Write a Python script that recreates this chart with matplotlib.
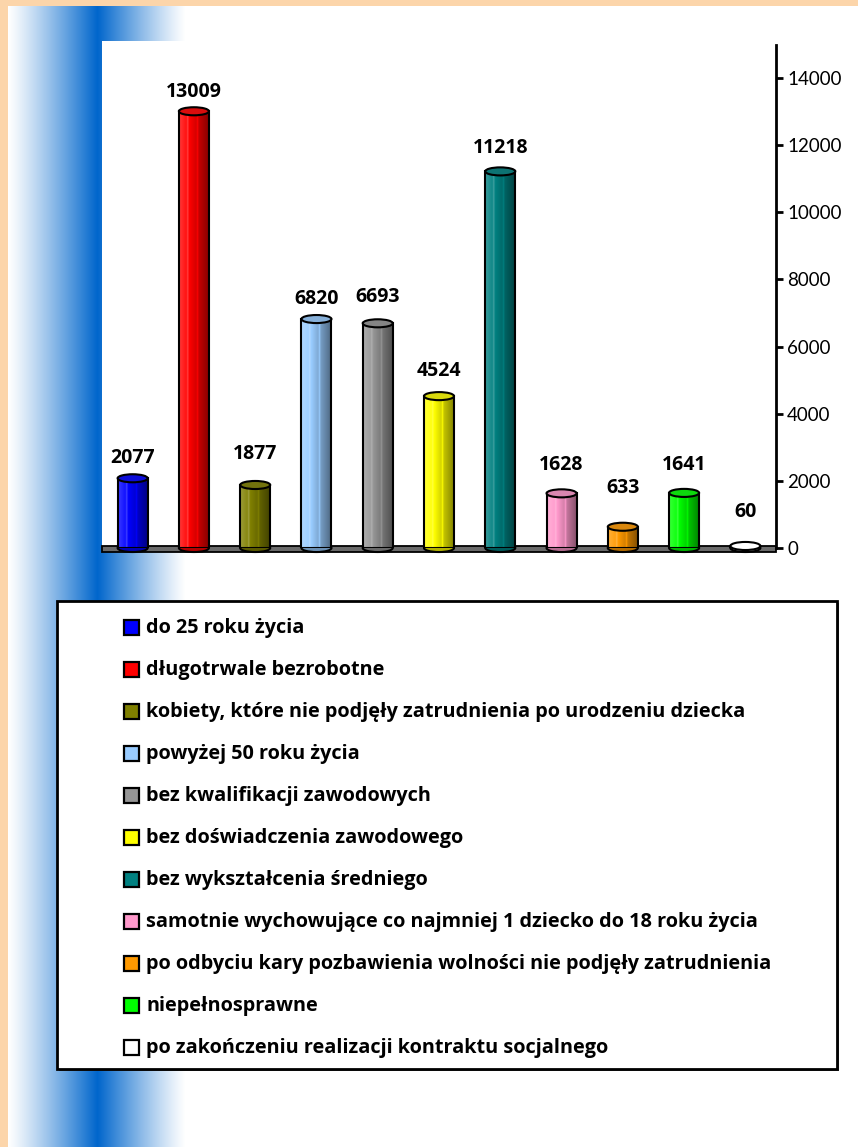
import numpy as np
import matplotlib
matplotlib.use("Agg")
import matplotlib.pyplot as plt
from matplotlib.patches import Rectangle, Ellipse
from matplotlib.colors import to_rgb

plt.rcParams["font.family"] = ["Open Sans", "DejaVu Sans"]

# Data
categories = [
    "do 25 roku życia",
    "długotrwale bezrobotne",
    "kobiety, które nie podjęły zatrudnienia po urodzeniu dziecka",
    "powyżej 50 roku życia",
    "bez kwalifikacji zawodowych",
    "bez doświadczenia zawodowego",
    "bez wykształcenia średniego",
    "samotnie wychowujące co najmniej 1 dziecko do 18 roku życia",
    "po odbyciu kary pozbawienia wolności nie podjęły zatrudnienia",
    "niepełnosprawne",
    "po zakończeniu realizacji kontraktu socjalnego",
]
values = [2077, 13009, 1877, 6820, 6693, 4524, 11218, 1628, 633, 1641, 60]
colors = ["#0000FF", "#FF0000", "#808000", "#99CCFF", "#969696", "#FFFF00",
          "#008080", "#FF99CC", "#FF9900", "#00FF00", "#FFFFFF"]
y_ticks = [0, 2000, 4000, 6000, 8000, 10000, 12000, 14000]

# label distance above bar top, in pixels (as placed in the original)
label_gap_px = [20, 19, 31, 20, 26, 25, 23, 28, 39, 28, 34]

W, H = 858, 1147
fig = plt.figure(figsize=(W / 100, H / 100), dpi=100)
fig.patch.set_facecolor("#FCD5AA")

# -------- background with blue stripe --------
bg = fig.add_axes([0, 0, 1, 1])
bg.set_xlim(0, W)
bg.set_ylim(H, 0)
bg.axis("off")

blue = np.array(to_rgb("#0066CC"))
white = np.ones(3)
xs = np.arange(8, W)
f = np.where(xs < 97, (xs - 8) / (97 - 8), 1 - (xs - 97) / (185 - 97))
f = np.clip(f, 0, 1) ** 1.15
row = white[None, :] * (1 - f[:, None]) + blue[None, :] * f[:, None]
bg.imshow(row[None, :, :], extent=[8, W, H, 6], aspect="auto", zorder=0)

# white plot area
bg.add_patch(Rectangle((102, 41), W - 102, 551 - 41, fc="white", ec="none", zorder=1))

# legend box
bg.add_patch(Rectangle((59, 603), 780, 468, fc="#555555", ec="none", zorder=1))
bg.add_patch(Rectangle((57, 601), 780, 468, fc="white", ec="black", lw=2, zorder=2))

for k, (lab, col) in enumerate(zip(categories, colors)):
    yc = 627 + 42 * k
    bg.add_patch(Rectangle((124, yc - 7.5), 15, 15, fc=col, ec="black", lw=1.6, zorder=3))
    bg.text(146, yc + 1, lab, va="center", ha="left", fontsize=14.3,
            fontweight="bold", color="black", zorder=3)

# -------- chart axes --------
ax = fig.add_axes([102 / W, 1 - 548 / H, 674 / W, 503 / H])
ax.patch.set_alpha(0)
ymax = 503 * 14000 / 470
ax.set_xlim(-0.5, 10.5)
ax.set_ylim(0, ymax)

for s in ["left", "top", "bottom"]:
    ax.spines[s].set_visible(False)
ax.spines["right"].set_linewidth(2)
ax.yaxis.tick_right()
ax.set_yticks(y_ticks)
ax.set_yticklabels([str(t) for t in y_ticks], family=["Lato", "DejaVu Sans"])
ax.tick_params(axis="y", direction="out", length=5, width=2, labelsize=13.5, pad=3)
ax.set_xticks([])

# floor
ax.add_patch(Rectangle((-0.5, -110), 11, 160, fc="#6a6a6a", ec="black", lw=1.3,
                       clip_on=False, zorder=1))

bw = 0.49
eh = 240
u = np.linspace(0, 1, 80)
shade = 1.25 - 0.75 * u
shade += 0.25 * np.exp(-((u - 0.28) / 0.025) ** 2)
shade += 0.2 * np.exp(-((u - 0.6) / 0.025) ** 2)


def shaded(col):
    c = np.array(to_rgb(col))
    out = []
    for s in shade:
        if s >= 1:
            out.append(c + (1 - c) * min(s - 1, 1) * 0.9)
        else:
            out.append(c * s)
    return np.clip(np.array(out), 0, 1)


for i, (v, col) in enumerate(zip(values, colors)):
    x0 = i - bw / 2
    c = np.array(to_rgb(col))
    # bottom cap
    ax.add_patch(Ellipse((i, 0), bw, eh, fc=c * 0.7, ec="black", lw=1.5,
                         zorder=2, clip_on=False))
    # body with shading
    grad = shaded(col)[None, :, :]
    ax.imshow(grad, extent=[x0, x0 + bw, 0, v], aspect="auto", zorder=3,
              interpolation="bilinear")
    ax.add_patch(Rectangle((x0, 0), bw, v, fc="none", ec="black", lw=1.5, zorder=4))
    # top cap
    ax.add_patch(Ellipse((i, v), bw, eh, fc=c * 0.8 + 0.05 if col != "#FFFFFF" else c,
                         ec="black", lw=1.5, zorder=5, clip_on=False))
    ax.annotate(str(v), (i, v), xytext=(0, label_gap_px[i] * 0.72),
                textcoords="offset points", ha="center", va="center",
                fontsize=14, fontweight="bold", color="black")

ax.set_xlim(-0.5, 10.5)
ax.set_ylim(0, ymax)

fig.savefig("out.png", dpi=100)
